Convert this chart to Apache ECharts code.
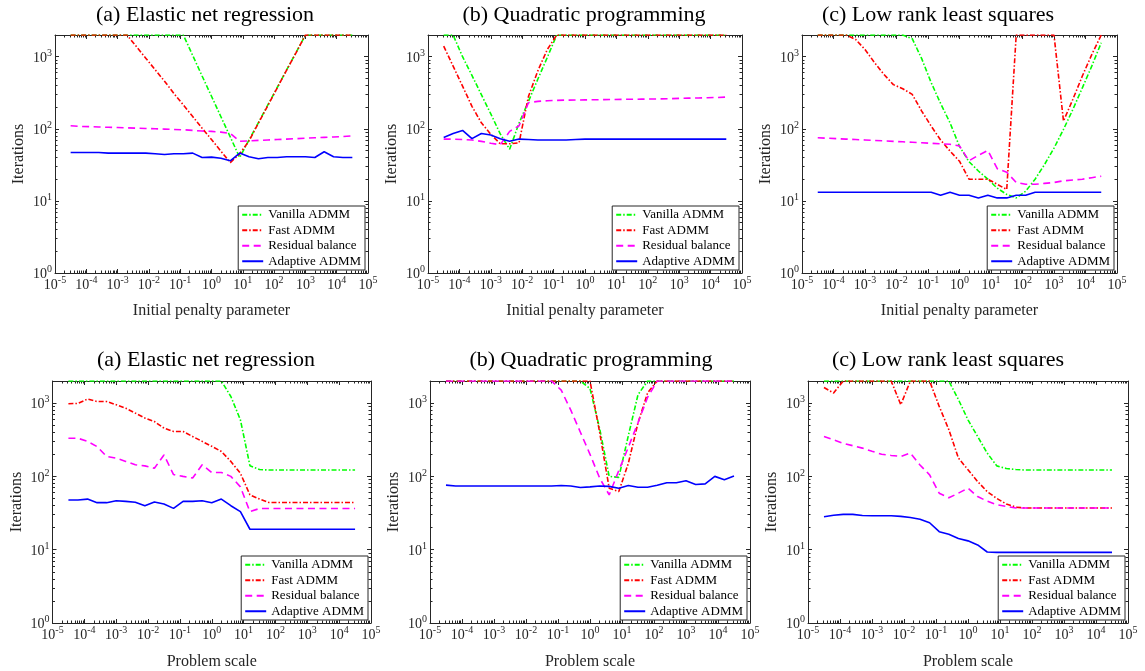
<!DOCTYPE html>
<html>
<head>
<meta charset="utf-8">
<script src="https://cdn.jsdelivr.net/npm/echarts@6/dist/echarts.min.js"></script>
<style>
html,body{margin:0;padding:0;background:#ffffff;}
#chart{width:1145px;height:671px;}
</style>
</head>
<body>
<div id="chart"></div>
<script>
// ---------------- DATA ----------------
const seriesNames = ['Vanilla ADMM', 'Fast ADMM', 'Residual balance', 'Adaptive ADMM'];
const panelTitles = ['(a) Elastic net regression', '(b) Quadratic programming', '(c) Low rank least squares'];
const xAxisNames = ['Initial penalty parameter', 'Problem scale'];
const yAxisName = 'Iterations';
const xTickExponents = [-5, -4, -3, -2, -1, 0, 1, 2, 3, 4, 5];
const yTickExponents = [0, 1, 2, 3];

const penalty = [3.16e-5, 6.31e-5, 1.26e-4, 2.51e-4, 5.01e-4, 1.0e-3, 2.0e-3, 3.98e-3, 7.94e-3, 1.58e-2, 3.16e-2, 6.31e-2, 0.126, 0.251, 0.501, 1.0, 2.0, 3.98, 7.94, 15.8, 31.6, 63.1, 126, 251, 501, 1000, 2000, 3980, 7940, 15800, 31600];
const problemScale = [3.16e-5, 6.31e-5, 1.26e-4, 2.51e-4, 5.01e-4, 1.0e-3, 2.0e-3, 3.98e-3, 7.94e-3, 1.58e-2, 3.16e-2, 6.31e-2, 0.126, 0.251, 0.501, 1.0, 2.0, 3.98, 7.94, 15.8, 31.6, 63.1, 126, 251, 501, 1000, 2000, 3980, 7940, 15800, 31600];

// (a) Elastic net regression vs initial penalty
const enrPenaltyVanilla  = [2000,2000,2000,2000,2000,2000,2000,2000,2000,2000,2000,2000,2000,1040,540,283,147,77,40,70,122,214,374,655,1140,2000,2000,2000,2000,2000,2000];
const enrPenaltyFast     = [2000,2000,2000,2000,2000,2000,2000,1380,955,660,457,309,214,148,102,71,49,34,45,68,120,210,370,650,1130,2000,2000,2000,2000,2000,2000];
const enrPenaltyResidual = [110,108,107,106,105,104,103,102,101,100,99,98,97,95,93,92,90,86,67,68,69,70,71,72,73,74,75,76,77,78,80];
const enrPenaltyAdaptive = [47,47,47,47,46,46,46,46,46,45,44,45,45,46,40,40.5,39,36,46,41,38.5,40,40,41,41,41,40,48,41,40,40];

// (b) Quadratic programming vs initial penalty
const qpPenaltyVanilla  = [2000,2000,1000,550,297,161,85,52,120,240,490,980,2000,2000,2000,2000,2000,2000,2000,2000,2000,2000,2000,2000,2000,2000,2000,2000,2000,2000,2000];
const qpPenaltyFast     = [1400,740,390,205,121,84,62,62,64,280,640,1260,2000,2000,2000,2000,2000,2000,2000,2000,2000,2000,2000,2000,2000,2000,2000,2000,2000,2000,2000];
const qpPenaltyResidual = [72,72,71,70,67,63,60,92,110,230,240,245,248,250,251,252,253,254,255,256,257,258,259,260,262,264,266,268,270,272,275];
const qpPenaltyAdaptive = [76,86,95,73,86,82,73,67,72,71,70,70,70,70,71,72,72,72,72,72,72,72,72,72,72,72,72,72,72,72,72];

// (c) Low rank least squares vs initial penalty
const lrlsPenaltyVanilla  = [2000,2000,2000,2000,2000,2000,2000,2000,2000,2000,1780,940,437,225,121,57,35,26,20,15,12.3,11,13.6,20,32,54,98,186,370,740,1560];
const lrlsPenaltyFast     = [2000,2000,2000,2000,1740,1260,830,570,410,360,300,176,109,70,49,35.5,20,20,20,17,14.4,2000,2000,2000,2000,2000,128,257,540,1070,2000];
const lrlsPenaltyResidual = [75,74,73,72,71,70,69,68,67,66,65,64,63,62,61,58,36,43,50,28,25,18,17,17,17.5,18,19,19.5,20,21,22];
const lrlsPenaltyAdaptive = [13.2,13.2,13.2,13.2,13.2,13.2,13.2,13.2,13.2,13.2,13.2,13.2,13.2,12,13.2,12,12,11,12,11,11,12,12,13.2,13.2,13.2,13.2,13.2,13.2,13.2,13.2];

// (a) Elastic net regression vs problem scale
const enrScaleVanilla  = [2000,2000,2000,2000,2000,2000,2000,2000,2000,2000,2000,2000,2000,2000,2000,2000,2000,1230,590,140,124,122,122,122,122,122,122,122,122,122,122];
const enrScaleFast     = [980,990,1135,1050,1050,950,850,730,625,560,455,410,410,350,300,257,219,160,110,56,49,44,44,44,44,44,44,44,44,44,44];
const enrScaleResidual = [331,331,300,255,187,177,160,144,139,129,196,106,100,95,144,113,113,100,72,33,36.5,36.5,36.5,36.5,36.5,36.5,36.5,36.5,36.5,36.5,36.5];
const enrScaleAdaptive = [47.6,47.6,49,43.8,43.8,46.6,45.6,44.3,39.8,44.7,42,36.6,45.6,45.6,46.6,43.8,49,39.8,33,19,19,19,19,19,19,19,19,19,19,19,19];

// (b) Quadratic programming vs problem scale
const qpScaleVanilla  = [2000,2000,2000,2000,2000,2000,2000,2000,2000,2000,2000,2000,2000,2000,2000,1580,450,100,97,360,1300,2000,2000,2000,2000,2000,2000,2000,2000,2000,2000];
const qpScaleFast     = [2000,2000,2000,2000,2000,2000,2000,2000,2000,2000,2000,2000,2000,2000,2000,2000,400,69,62,151,535,1380,2000,2000,2000,2000,2000,2000,2000,2000,2000];
const qpScaleResidual = [2000,2000,2000,2000,2000,2000,2000,2000,2000,2000,2000,2000,1500,800,400,200,95,56,120,250,540,1200,2000,2000,2000,2000,2000,2000,2000,2000,2000];
const qpScaleAdaptive = [76,74,74,74,74,74,74,74,74,74,74,74,75,74,70.5,72,74,73,69,75,71,71,75.6,82,82,87,77.5,79,100,90,101];

// (c) Low rank least squares vs problem scale
const lrlsScaleVanilla  = [2000,2000,2000,2000,2000,2000,2000,2000,2000,2000,2000,2000,2000,2000,1120,590,350,208,139,128,124,122,122,122,122,122,122,122,122,122,122];
const lrlsScaleFast     = [1630,1370,2000,2000,2000,2000,2000,2000,950,2000,2000,2000,900,435,178,123,85,62,50,42,38,37,37,37,37,37,37,37,37,37,37];
const lrlsScaleResidual = [350,315,283,262,243,220,200,193,187,208,143,105,59,51,59,69,53,46,41,39,37,37,37,37,37,37,37,37,37,37,37];
const lrlsScaleAdaptive = [28.2,29.5,30.3,30.3,29.3,29,29,29,28.5,27.5,26,23.3,17.6,16.2,14.2,13.2,11.6,9.3,9.2,9.2,9.2,9.2,9.2,9.2,9.2,9.2,9.2,9.2,9.2,9.2,9.2];

// ---------------- PANELS ----------------
const panels = [
  {title: panelTitles[0], xName: xAxisNames[0], x: penalty, ys: [enrPenaltyVanilla, enrPenaltyFast, enrPenaltyResidual, enrPenaltyAdaptive]},
  {title: panelTitles[1], xName: xAxisNames[0], x: penalty, ys: [qpPenaltyVanilla, qpPenaltyFast, qpPenaltyResidual, qpPenaltyAdaptive]},
  {title: panelTitles[2], xName: xAxisNames[0], x: penalty, ys: [lrlsPenaltyVanilla, lrlsPenaltyFast, lrlsPenaltyResidual, lrlsPenaltyAdaptive]},
  {title: panelTitles[0], xName: xAxisNames[1], x: problemScale, ys: [enrScaleVanilla, enrScaleFast, enrScaleResidual, enrScaleAdaptive]},
  {title: panelTitles[1], xName: xAxisNames[1], x: problemScale, ys: [qpScaleVanilla, qpScaleFast, qpScaleResidual, qpScaleAdaptive]},
  {title: panelTitles[2], xName: xAxisNames[1], x: problemScale, ys: [lrlsScaleVanilla, lrlsScaleFast, lrlsScaleResidual, lrlsScaleAdaptive]}
];

// ---------------- LAYOUT & STYLE ----------------
const W = 1145, H = 671;
const FONT = "'Liberation Serif', 'Times New Roman', serif";
const AX = '#262626';
const gridBoxes = [
  {left: 55,   top: 35,  width: 313,   height: 238},
  {left: 428,  top: 35,  width: 314,   height: 238},
  {left: 802,  top: 35,  width: 315,   height: 238},
  {left: 52.5, top: 381, width: 318.5, height: 242},
  {left: 430,  top: 381, width: 320,   height: 242},
  {left: 808,  top: 381, width: 320,   height: 242}
];
const titleCenters = [[205, 15.5], [584, 15.5], [938, 15.5], [206, 360.5], [591, 360.5], [948, 360.5]];
const xNameGaps = [30, 30, 30, 31, 31, 31];
const lineStyles = [
  {color: '#00ff00', type: [5, 2, 1.5, 2]},
  {color: '#ff0000', type: [5, 2, 1.5, 2]},
  {color: '#ff00ff', type: [7, 4.5]},
  {color: '#0000ff', type: 'solid'}
];

const X_MIN = 1e-5, X_MAX = 1e5, Y_MIN = 1, Y_MAX = 2000;
const lxMin = Math.log10(X_MIN), lxMax = Math.log10(X_MAX);
const lyMin = Math.log10(Y_MIN), lyMax = Math.log10(Y_MAX);

function minorLogTicks(lo, hi) {
  const out = [];
  for (let d = Math.floor(lo); d < Math.ceil(hi); d++) {
    for (let k = 2; k <= 9; k++) {
      const v = d + Math.log10(k);
      if (v > lo && v < hi) out.push(v);
    }
  }
  return out;
}
const xMinor = minorLogTicks(lxMin, lxMax);
const yMinor = minorLogTicks(lyMin, lyMax);

const richLabel = {
  b: {fontFamily: FONT, fontSize: 14, color: AX, verticalAlign: 'bottom'},
  s: {fontFamily: FONT, fontSize: 10, color: AX, verticalAlign: 'bottom', padding: [0, 0, 7, 0]}
};
function powLabel(v) {
  const r = Math.round(v);
  if (Math.abs(v - r) > 1e-6) return '';
  return '{b|10}{s|' + r + '}';
}

const grids = [], xAxes = [], yAxes = [], series = [], titles = [], legends = [];

function deco(dim, g, position, opts) {
  const isX = dim === 'x';
  return Object.assign({
    type: 'value',
    gridIndex: g,
    position: position,
    min: isX ? lxMin : lyMin,
    max: isX ? lxMax : lyMax,
    interval: 1,
    silent: true,
    axisLine: {show: false, onZero: false, lineStyle: {color: AX, width: 1}},
    axisTick: {show: false},
    axisLabel: {show: false},
    splitLine: {show: false},
    axisPointer: {show: false}
  }, opts);
}

panels.forEach((p, g) => {
  const b = gridBoxes[g];
  grids.push({left: b.left, top: b.top, width: b.width, height: b.height, containLabel: false, outerBoundsMode: 'none', show: false});

  // data axes (log scale)
  xAxes.push({type: 'log', logBase: 10, gridIndex: g, min: X_MIN, max: X_MAX, show: false, axisLine: {onZero: false}});
  yAxes.push({type: 'log', logBase: 10, gridIndex: g, min: Y_MIN, max: Y_MAX, show: false, axisLine: {onZero: false}});

  // x decoration axes (log10 units, aligned with the same grid)
  xAxes.push(deco('x', g, 'bottom', {
    axisLine: {show: true, onZero: false, lineStyle: {color: AX, width: 1}},
    axisTick: {show: true, inside: true, length: 4, lineStyle: {color: AX, width: 1}},
    axisLabel: {show: true, formatter: powLabel, rich: richLabel, margin: 2, showMinLabel: true, showMaxLabel: true},
    name: p.xName, nameLocation: 'middle', nameGap: xNameGaps[g],
    nameTextStyle: {fontFamily: FONT, fontSize: 16, color: AX}
  }));
  xAxes.push(deco('x', g, 'bottom', {
    axisTick: {show: true, inside: true, length: 2.5, customValues: xMinor, lineStyle: {color: AX, width: 1}}
  }));
  xAxes.push(deco('x', g, 'top', {
    axisLine: {show: true, onZero: false, lineStyle: {color: AX, width: 1}},
    axisTick: {show: true, inside: true, length: 4, lineStyle: {color: AX, width: 1}}
  }));
  xAxes.push(deco('x', g, 'top', {
    axisTick: {show: true, inside: true, length: 2.5, customValues: xMinor, lineStyle: {color: AX, width: 1}}
  }));

  // y decoration axes
  yAxes.push(deco('y', g, 'left', {
    axisLine: {show: true, onZero: false, lineStyle: {color: AX, width: 1}},
    axisTick: {show: true, inside: true, length: 4, lineStyle: {color: AX, width: 1}},
    axisLabel: {show: true, formatter: powLabel, rich: richLabel, margin: 3, showMaxLabel: false},
    name: yAxisName, nameLocation: 'middle', nameGap: 28,
    nameTextStyle: {fontFamily: FONT, fontSize: 16, color: AX}
  }));
  yAxes.push(deco('y', g, 'left', {
    axisTick: {show: true, inside: true, length: 2.5, customValues: yMinor, lineStyle: {color: AX, width: 1}}
  }));
  yAxes.push(deco('y', g, 'right', {
    axisLine: {show: true, onZero: false, lineStyle: {color: AX, width: 1}},
    axisTick: {show: true, inside: true, length: 4, lineStyle: {color: AX, width: 1}}
  }));
  yAxes.push(deco('y', g, 'right', {
    axisTick: {show: true, inside: true, length: 2.5, customValues: yMinor, lineStyle: {color: AX, width: 1}}
  }));

  // series
  p.ys.forEach((ys, s) => {
    series.push({
      type: 'line',
      name: seriesNames[s],
      xAxisIndex: g * 5,
      yAxisIndex: g * 5,
      data: p.x.map((xv, i) => [xv, ys[i]]),
      showSymbol: false,
      symbol: 'circle',
      silent: true,
      z: 3 + s,
      lineStyle: {color: lineStyles[s].color, width: 1.6, type: lineStyles[s].type},
      itemStyle: {color: lineStyles[s].color}
    });
  });

  // title
  titles.push({
    text: p.title,
    left: titleCenters[g][0],
    top: titleCenters[g][1],
    textAlign: 'center',
    textVerticalAlign: 'middle',
    padding: 0,
    textStyle: {fontFamily: FONT, fontSize: 22, fontWeight: 'normal', color: '#000'}
  });

  // legend (inset at lower right of each panel)
  legends.push({
    right: W - (b.left + b.width - 3),
    bottom: H - (b.top + b.height - 3),
    orient: 'vertical',
    align: 'left',
    data: seriesNames,
    selectedMode: false,
    backgroundColor: '#ffffff',
    borderColor: AX,
    borderWidth: 1,
    borderRadius: 0,
    padding: [1, 4, 1, 3],
    itemGap: 0,
    itemWidth: 21,
    itemHeight: 10,
    itemStyle: {opacity: 0},
    textStyle: {fontFamily: FONT, fontSize: 13, color: '#000', lineHeight: 15.5},
    z: 10
  });
});

const chart = echarts.init(document.getElementById('chart'), null, {renderer: 'canvas'});
chart.setOption({
  animation: false,
  backgroundColor: '#ffffff',
  title: titles,
  legend: legends,
  grid: grids,
  xAxis: xAxes,
  yAxis: yAxes,
  series: series
});
</script>
</body>
</html>
